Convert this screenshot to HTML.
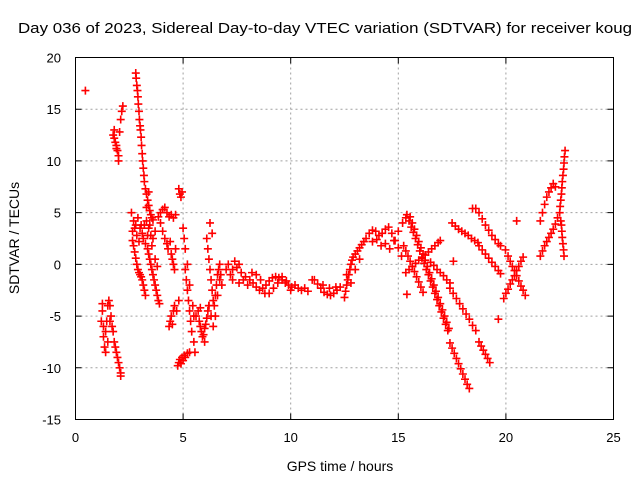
<!DOCTYPE html>
<html><head><meta charset="utf-8"><style>
html,body{margin:0;padding:0;background:#fff;}
svg{display:block;font-family:"Liberation Sans",sans-serif;}
</style></head><body>
<svg id="chart" width="640" height="480" xmlns="http://www.w3.org/2000/svg">
<rect width="640" height="480" fill="#fff"/>
<text x="18" y="33" font-size="14.5" textLength="614" lengthAdjust="spacingAndGlyphs" fill="#000">Day 036 of 2023, Sidereal Day-to-day VTEC variation (SDTVAR) for receiver koug</text>
<g id="grid"></g>
<g id="marks"></g>
<rect x="75.5" y="57.5" width="538" height="362" fill="none" stroke="#000" stroke-width="1"/>
<g id="ticks"></g>
<text transform="translate(19,238) rotate(-90)" text-anchor="middle" font-size="14" fill="#000">SDTVAR / TECUs</text>
<text x="340" y="471" text-anchor="middle" font-size="14" fill="#000">GPS time / hours</text>
</svg>
<script>
const xTicks = [0,5,10,15,20,25];
const yTicks = [-15,-10,-5,0,5,10,15,20];
const times = [
0.46,
1.2,1.25,1.3,1.3,1.35,1.4,1.45,1.5,1.5,1.55,1.6,1.65,1.7,1.75,1.8,1.85,1.9,1.95,2.0,2.05,2.1,2.1,1.25,1.4,1.6,
1.75,1.8,1.85,1.9,1.95,2.0,2.0,2.05,2.1,2.15,2.2,1.8,1.9,
2.8,2.82,2.85,2.88,2.9,2.92,2.95,2.97,3.0,3.02,3.05,3.07,3.1,3.12,3.15,3.18,
3.2,3.25,3.3,3.35,3.4,3.45,3.5,3.55,3.6,3.3,3.4,
2.6,2.7,2.8,2.9,3.0,3.1,3.2,3.3,3.4,3.5,3.6,3.7,2.65,2.75,2.85,2.95,3.05,3.15,3.25,3.35,3.45,3.55,
2.65,2.7,2.75,2.8,2.85,2.9,2.95,3.0,3.05,3.1,3.15,3.2,3.25,
3.35,3.4,3.45,3.5,3.55,3.6,3.65,3.7,3.75,3.8,3.85,3.9,3.7,3.8,
3.85,3.95,4.05,4.15,4.25,4.35,4.45,4.55,4.65,
3.95,4.05,4.15,4.25,4.3,4.4,4.45,4.5,4.55,4.6,4.65,
4.8,4.85,4.9,4.95,
5.0,5.05,5.1,5.1,5.15,5.2,5.2,5.25,5.3,5.3,5.35,5.4,5.45,5.5,5.5,5.55,
4.75,4.8,4.85,4.9,4.95,5.0,5.05,5.1,5.2,5.3,
4.35,4.4,4.45,4.5,4.55,4.6,4.7,4.8,
6.1,6.15,6.2,6.25,6.3,6.35,6.4,6.45,6.5,6.55,6.6,6.65,6.7,6.75,6.8,6.2,6.3,6.4,6.5,6.6,6.7,6.25,6.35,
5.6,5.7,5.75,5.8,5.85,5.9,5.95,6.0,6.05,6.1,6.15,6.2,5.8,6.0,
7.0,7.1,7.2,7.3,7.4,7.5,7.6,7.7,7.8,7.9,8.0,7.3,7.6,
8.1,8.25,8.4,8.55,8.7,8.85,9.0,9.15,9.3,9.45,9.6,9.75,9.9,10.05,8.2,8.4,8.6,8.8,9.0,9.2,9.4,9.6,9.8,10.0,
10.2,10.35,10.5,10.65,10.8,
11.0,11.1,11.25,11.4,11.55,11.7,11.85,12.0,12.15,12.3,11.5,11.8,12.1,
12.5,12.55,12.6,12.65,12.7,12.75,12.8,12.85,12.9,13.0,13.1,13.2,13.3,13.4,12.6,12.8,13.0,13.2,
13.5,13.65,13.8,13.95,14.1,14.25,14.4,14.55,14.7,14.85,15.0,15.15,13.8,14.0,14.2,14.4,14.6,14.8,15.0,15.2,15.35,
15.4,15.5,15.6,15.7,15.8,15.9,16.0,16.1,16.2,16.3,16.4,16.5,16.6,16.7,16.8,16.9,17.0,17.1,17.2,17.3,
15.55,15.65,15.75,15.85,15.95,16.05,16.15,16.25,16.35,16.45,16.55,16.65,16.75,16.85,16.95,17.05,17.15,17.25,17.35,
15.25,15.35,15.45,15.55,15.65,15.75,15.85,15.95,16.05,16.15,
15.35,15.5,15.65,15.8,15.95,16.1,16.25,16.4,16.55,16.7,16.85,16.95,
16.5,16.65,16.8,16.95,17.1,17.25,17.4,
17.4,17.55,17.7,17.85,18.0,18.15,18.3,18.45,18.6,
17.4,17.5,17.6,17.7,17.8,17.9,18.0,18.1,18.2,18.3,
18.75,18.85,18.95,19.05,19.15,19.25,
17.5,17.65,17.8,17.95,18.1,18.25,18.4,18.55,18.7,
18.75,18.9,19.05,19.2,19.35,19.5,19.65,19.75,
18.45,18.6,18.75,18.9,19.05,19.2,19.35,19.5,19.65,19.75,
19.9,20.0,20.1,20.2,20.3,20.4,20.5,20.6,20.7,20.8,
19.98,20.1,20.2,20.3,20.4,20.5,20.6,20.7,20.8,20.9,
20.5,19.65,17.56,15.4,
21.6,21.7,21.8,21.9,22.0,22.1,22.2,22.3,
22.75,22.72,22.7,22.68,22.65,22.62,22.6,22.58,22.55,22.52,22.5,
21.6,21.7,21.8,21.9,22.0,22.1,22.2,22.3,22.4,
22.7,22.68,22.65,22.62,22.6,22.58,22.55
];
const values = [
16.8,
-5.5,-4.5,-6,-7,-8,-6.5,-5.5,-4,-7.5,-3.5,-4,-5,-6,-6.5,-7.5,-8,-8.5,-9,-9.5,-10,-10.5,-10.8,-3.8,-8.5,-5.5,
12.5,12.2,11.8,11.5,11,10.5,10,12.8,14,14.8,15.3,13,11.2,
18.5,18,17.3,16.8,16.2,15.5,14.8,14,13.4,13,12.3,11.5,10.7,10,9.3,8.6,
8,7.3,6.8,6.2,5.7,5.2,4.8,4.5,4.3,5.5,7,
5,4.2,3.8,4.5,3.5,3,3.8,4.2,3.5,2.8,2.5,3.2,3.2,3.5,2.8,2.2,3.8,2.5,2,2.8,3.8,1.8,
2.3,1.8,1.2,0.6,0,-0.5,-0.8,-1,-1.2,-1.5,-2,-2.5,-3,
1.5,1,0.5,0,-0.5,-1,-1.5,-2,-2.5,-3,-3.5,-3.8,0.5,-0.2,
4.6,5,5.3,5.5,5,4.6,4.8,4.5,4.8,
4,3.2,2.5,2,1.5,2.2,1,0.5,0,-0.5,1.5,
7.3,6.8,6.5,7,
3.5,2.5,1.5,-0.5,-1.5,-2.5,0,-3.5,-4.5,-2,-5.5,-6.5,-4,-7.5,-5,-8.5,
-9.8,-9.5,-9.2,-9.6,-9,-9.3,-8.8,-9,-8.6,-8.5,
-6,-5.5,-5,-5.8,-4.5,-4,-4.5,-3.5,
2.5,1.5,0.5,-0.5,-1.5,-2.5,-3.5,-4,-3,-2,-1,-0.5,0,-1,-2,-4,-5,-6,-5,-3,-1.5,4,3,
-5,-4.5,-5.5,-6,-6.5,-7,-6.8,-6.2,-5.8,-5.2,-4.5,-4,-4.2,-7.5,
-0.5,0,-1,-0.5,0.3,-0.3,0,-0.8,-1.5,-1.2,-2,-1.5,-1.8,
-1.5,-1.8,-2.2,-2.5,-2.3,-2,-1.6,-1.3,-1.2,-1.3,-1.5,-1.8,-2,-2.2,-0.8,-1,-1.5,-2.8,-2.8,-2.3,-1.8,-1.2,-1.6,-2.5,
-2,-2.3,-2.5,-2.3,-2.6,
-1.5,-1.5,-1.9,-2.3,-2.7,-2.9,-3,-2.8,-2.5,-2.2,-2,-2.3,-2.2,
-3.2,-2.6,-2,-1.5,-1,-0.5,0,0.4,0.7,1,1.3,1.6,1.9,2.2,-1,-1.8,-0.5,0.5,
2.5,3,3.3,3.2,2.8,3,3.4,3.6,3,2.3,1.6,0.8,2.2,2.4,1.8,2,1.5,2.3,3.2,4,4.5,
4.8,4.2,3.6,3.1,2.5,1.9,1.3,0.7,0.1,-0.5,-1,-1.6,-2.2,-2.8,-3.4,-4,-4.6,-5.2,-5.8,-6.4,
4.6,4,3.4,2.8,2.2,1.6,1,0.4,-0.2,-0.8,-1.4,-2,-2.6,-3.2,-3.8,-4.4,-5,-5.6,-6.2,
1.8,1.3,0.8,0.3,-0.2,-0.7,-1.2,-1.7,-2.2,-2.7,
-0.8,-0.5,-0.2,0.1,0.4,0.6,0.9,1.2,1.5,1.8,2.1,2.3,
0.2,-0.1,-0.5,-0.8,-1.1,-1.5,-1.8,
-2.3,-2.8,-3.3,-3.8,-4.3,-4.8,-5.3,-5.9,-6.4,
-7.6,-8.1,-8.6,-9.1,-9.6,-10.1,-10.6,-11.1,-11.6,-12,
-7.5,-7.9,-8.3,-8.7,-9.1,-9.5,
4,3.7,3.4,3.2,3,2.8,2.5,2.3,2.1,
1.8,1.4,1,0.6,0.2,-0.2,-0.6,-0.9,
5.4,5.4,5,4.4,3.8,3.3,2.8,2.4,2,1.8,
-3.3,-2.8,-2.4,-1.9,-1.5,-1.1,-0.6,-0.2,0.3,0.7,
1.4,0.8,0.3,-0.2,-0.6,-1.1,-1.6,-2.1,-2.5,-3,
4.2,-5.3,0.3,-2.9,
4.2,5,5.8,6.5,7,7.4,7.8,7.5,
11,10.4,9.8,9.2,8.6,8,7.4,6.8,6.2,5.6,5,
0.8,1.3,1.8,2.2,2.6,3,3.4,3.9,4.5,
0.8,1.4,2,2.6,3.2,3.8,4.2
];
const NS = "http://www.w3.org/2000/svg";
const X0 = 75.5, X1 = 613.5, Y0 = 419.5, Y1 = 57.5;
function xs(t){ return X0 + (t - 0) / 25 * (X1 - X0); }
function ys(v){ return Y0 - (v + 15) / 35 * (Y0 - Y1); }
function mk(tag, attrs, parent){ const e = document.createElementNS(NS, tag); for (const k in attrs) e.setAttribute(k, attrs[k]); parent.appendChild(e); return e; }
const grid = document.getElementById('grid');
const ticks = document.getElementById('ticks');
const svg = document.getElementById('chart');
xTicks.forEach(t => {
  const x = xs(t);
  if (t > 0 && t < 25) {
    const g = mk('line', {x1:x, x2:x, y1:Y1, y2:Y0, stroke:'#a0a0a0', 'stroke-dasharray':'2,3', 'stroke-width':1}, grid);
    
    
  }
  const tk = mk('path', {d:`M${x} ${Y0}v-6M${x} ${Y1}v6`, stroke:'#000', 'stroke-width':1}, ticks);
  
  
  const lb = mk('text', {x:x, y:442, 'text-anchor':'middle', 'font-size':13, fill:'#000'}, svg);
  lb.textContent = t;
  
  
});
yTicks.forEach(v => {
  const y = ys(v);
  if (v > -15 && v < 20) {
    const g = mk('line', {x1:X0, x2:X1, y1:y, y2:y, stroke:'#a0a0a0', 'stroke-dasharray':'2,3', 'stroke-width':1}, grid);
    
    
  }
  const tk = mk('path', {d:`M${X0} ${y}h6M${X1} ${y}h-6`, stroke:'#000', 'stroke-width':1}, ticks);
  
  
  const lb = mk('text', {x:61, y:y+5, 'text-anchor':'end', 'font-size':13, fill:'#000'}, svg);
  lb.textContent = v;
  
  
});
const marks = document.getElementById('marks');
for (let i = 0; i < times.length; i++) {
  const x = xs(times[i]), y = ys(values[i]);
  const p = mk('path', {d:`M${x-4} ${y}h8M${x} ${y-4}v8`, stroke:'#ff0000', 'stroke-width':1.6, fill:'none'}, marks);
  
  
}
</script>
</body></html>
